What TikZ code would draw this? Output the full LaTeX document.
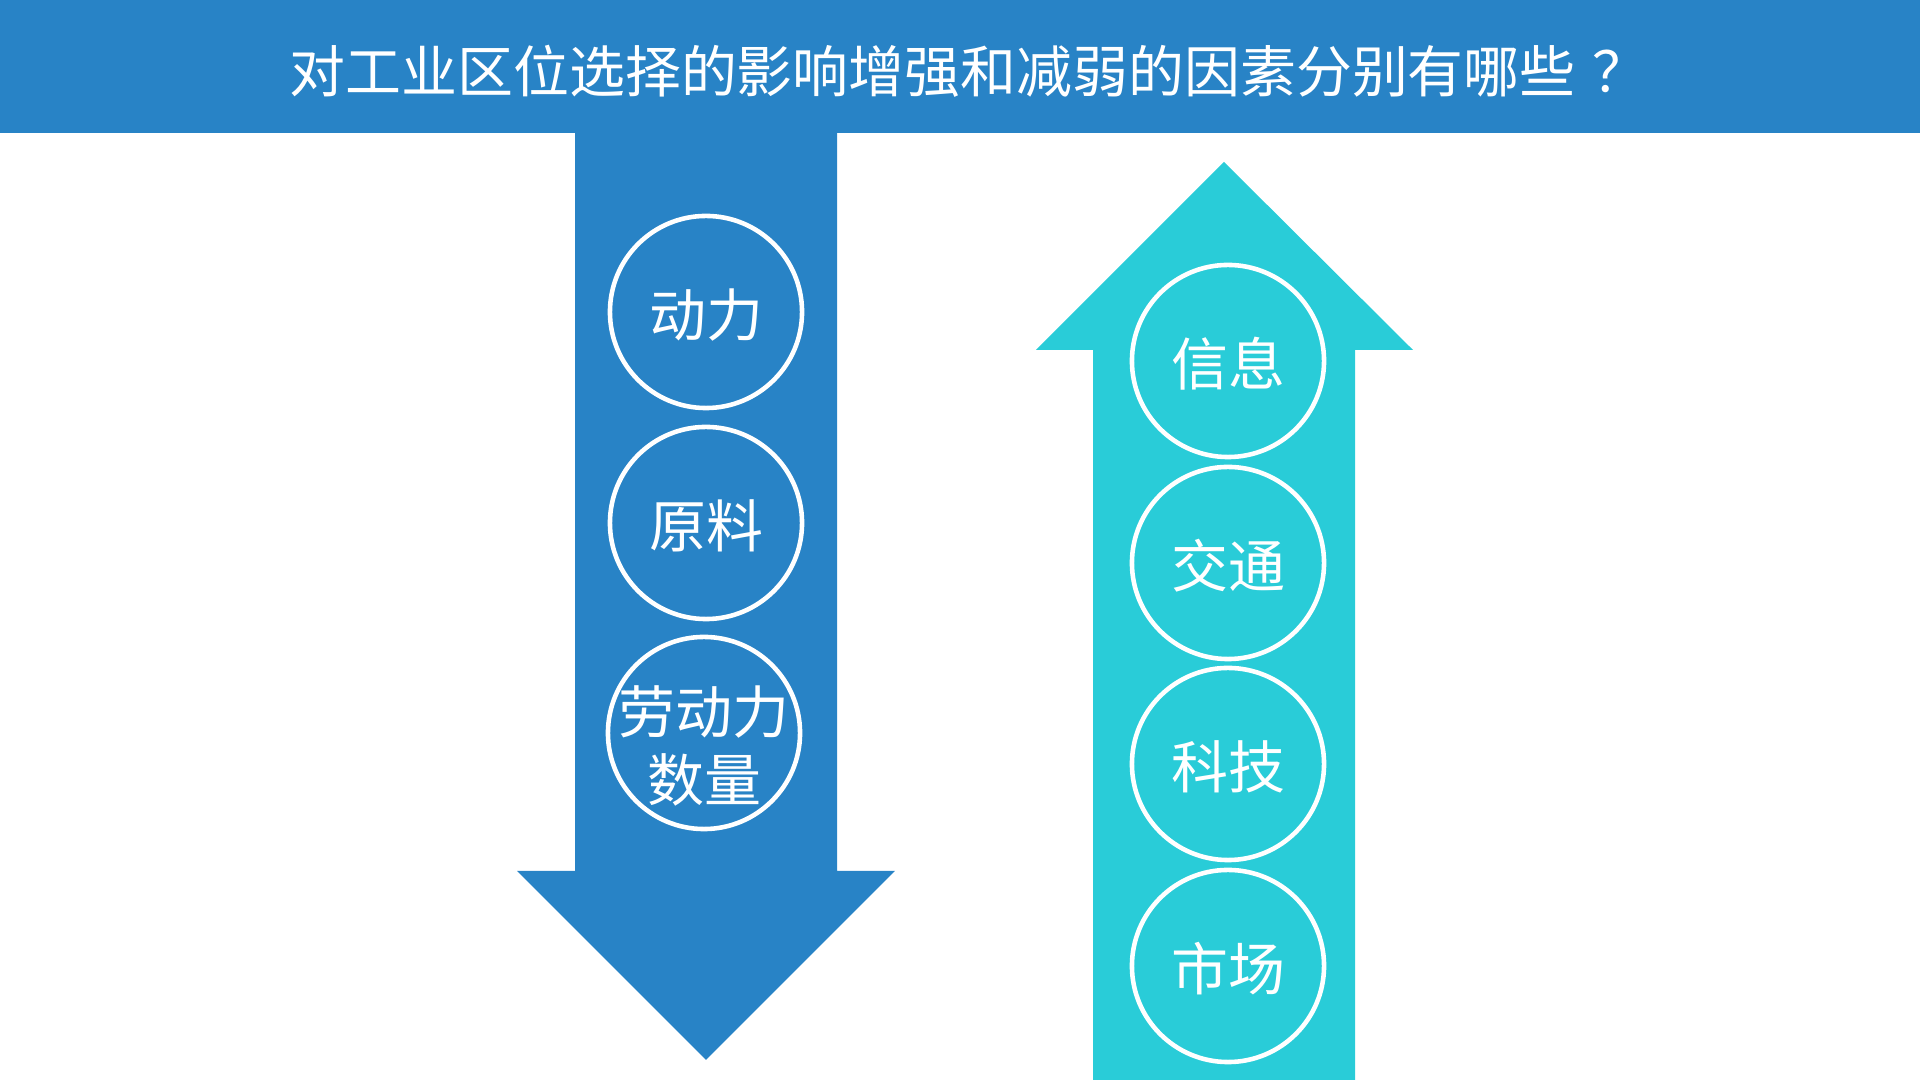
\documentclass[tikz,border=0pt]{standalone}
\usepackage{fontspec}
\setmainfont{Noto Sans CJK SC}
\definecolor{lanse}{HTML}{2883C6}
\definecolor{qingse}{HTML}{29CCD8}
\tikzset{
	yinsu/.style={circle, draw=white, line width=1.3pt, minimum size=1.92cm, inner sep=0pt},
	ziti/.style={text=white, align=center, yshift=-0.03cm, font=\fontsize{16.2}{19.2}\selectfont}
}

\begin{document}
\begin{tikzpicture}[x=0.01cm, y=-0.01cm, line join=round]
	\def\W{1920} \def\H{1080} % kich thuoc
	\useasboundingbox (0,0) rectangle (\W,\H);
	% tieu de
	\fill[lanse] (0,0) rectangle (\W,133);
	\node[text=white, font=\fontsize{15.9}{19}\selectfont] (tieude) at (969,71) {对工业区位选择的影响增强和减弱的因素分别有哪些\hspace{0.3em}？};
	% mui ten xuong
	\fill[lanse] (575,132)--(837,132)--(837,871)--(895,871)--(706,1060)--(517,871)--(575,871)--cycle;
	% mui ten len
	\fill[qingse] (1224,162)--(1413,350)--(1355,350)--(1355,\H)--(1093,\H)--(1093,350)--(1036,350)--cycle;
	\foreach \t/\y [count=\i] in {动力/312, 原料/523}
		\node[yinsu, label={[ziti]center:\t}] (giam\i) at (706,\y) {};
	\node[yinsu, label={[ziti, yshift=-0.1cm]center:劳动力\\数量}] (giam3) at (704,733) {};
	\foreach \t/\y [count=\i] in {信息/361, 交通/563, 科技/764, 市场/966}
		\node[yinsu, label={[ziti]center:\t}] (tang\i) at (1228,\y) {};
\end{tikzpicture}
\end{document}
